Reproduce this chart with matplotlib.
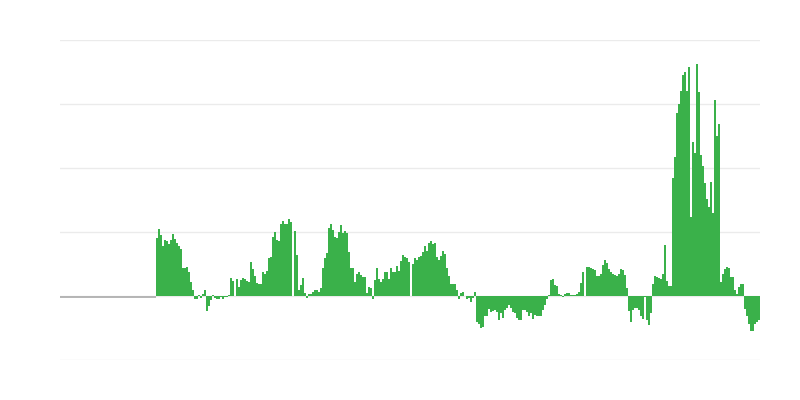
import matplotlib
matplotlib.use("Agg")
import matplotlib.pyplot as plt
import numpy as np

# number of empty periods before the series starts
n_empty = 48

# values per period (grid step = 10)
values = [
    9.0, 10.4, 9.6, 7.8, 8.8, 8.6, 8.2, 8.8, 9.7, 8.9,
    8.3, 7.8, 7.3, 4.3, 4.3, 4.5, 3.7, 2.2, 0.9, -0.4,
    -0.4, 0.2, -0.3, 0.3, 1.0, -2.3, -1.5, -0.7, 0.1, -0.3,
    -0.5, -0.4, -0.2, -0.5, -0.1, -0.1, 0.1, 2.8, 2.4, 0.0,
    2.7, 1.4, 2.5, 2.8, 2.6, 2.3, 2.2, 5.3, 4.2, 3.2,
    2.1, 1.8, 1.8, 3.7, 3.4, 3.9, 6.0, 6.1, 9.2, 10.0,
    8.7, 8.6, 11.3, 11.7, 11.2, 11.3, 12.1, 11.6, 0.0, 10.2,
    6.4, 0.9, 1.7, 2.8, 0.4, -0.3, 0.3, 0.3, 0.6, 1.0,
    1.0, 0.7, 1.3, 4.3, 6.0, 6.7, 10.7, 11.2, 10.3, 9.2,
    9.1, 10.0, 11.1, 9.9, 10.1, 9.9, 6.9, 4.3, 4.3, 2.2,
    3.4, 3.8, 3.3, 3.0, 3.0, 0.5, 1.4, 1.2, -0.5, 2.5,
    4.4, 2.6, 2.2, 2.7, 3.8, 3.8, 2.6, 4.3, 3.8, 3.8,
    4.7, 3.9, 5.5, 6.4, 6.1, 6.0, 5.3, 0.0, 5.0, 5.9,
    5.6, 6.1, 6.3, 6.8, 7.8, 7.0, 8.3, 8.6, 8.2, 8.3,
    6.1, 5.6, 6.3, 7.0, 6.6, 4.4, 3.1, 1.8, 1.9, 1.8,
    1.0, -0.4, 0.5, 0.6, 0.0, -0.5, -0.3, -0.9, -0.3, 0.6,
    -4.0, -4.4, -5.0, -4.8, -3.2, -3.2, -2.0, -2.5, -2.3, -2.2,
    -2.5, -3.8, -2.7, -3.5, -2.2, -1.8, -1.4, -1.8, -2.5, -2.7,
    -3.4, -3.8, -3.8, -2.2, -2.2, -2.5, -3.2, -2.7, -3.6, -3.0,
    -3.2, -3.1, -3.1, -2.2, -1.4, -0.5, 0.2, 2.5, 2.6, 1.7,
    1.5, 0.3, 0.1, -0.1, 0.3, 0.4, 0.5, 0.2, 0.2, 0.2,
    0.3, 0.7, 2.0, 3.8, 0.0, 4.6, 4.5, 4.4, 4.2, 4.1,
    3.1, 3.1, 3.5, 4.8, 5.6, 5.2, 4.2, 3.8, 3.5, 3.3,
    3.1, 3.5, 4.2, 4.1, 3.3, 1.3, -2.4, -4.0, -2.2, -1.8,
    -1.9, -2.2, -3.2, -3.6, -0.1, -3.8, -4.5, -2.6, 1.9, 3.1,
    3.0, 2.8, 2.6, 3.4, 7.9, 2.3, 1.6, 1.6, 18.5, 21.7,
    28.6, 30.0, 32.0, 34.6, 35.0, 32.0, 35.8, 12.3, 24.1, 22.4,
    36.3, 31.9, 22.1, 20.3, 17.7, 15.1, 13.9, 17.8, 12.9, 30.6,
    25.0, 26.9, 2.2, 3.4, 4.2, 4.5, 4.4, 3.0, 3.0, 1.0,
    0.3, 1.4, 1.9, 1.9, -2.1, -3.1, -4.3, -5.5, -5.5, -4.4,
    -4.0, -3.8,
]

y_ticks = [-10, 0, 10, 20, 30, 40]

data = np.concatenate([np.zeros(n_empty), np.array(values)])
x = np.arange(len(data))

fig = plt.figure(figsize=(8, 4), dpi=100)
ax = fig.add_axes([0.075, 0.1, 0.875, 0.8])

ax.set_yticks(y_ticks)
ax.grid(axis="y", color="#ebebeb", linewidth=1)
ax.set_axisbelow(True)

ax.bar(x, data, width=1.0, color="#3ab14a", linewidth=0)
# flat line for the periods without data
ax.hlines(-0.15, -0.5, n_empty - 0.5, color="#b0b0b0", linewidth=1.3)

ax.set_xlim(-0.5, len(data) - 0.5)
ax.set_ylim(-10, 40)
ax.tick_params(left=False, bottom=False, labelleft=False, labelbottom=False)
for s in ax.spines.values():
    s.set_visible(False)

fig.savefig("out.png", dpi=100)
plt.close(fig)
